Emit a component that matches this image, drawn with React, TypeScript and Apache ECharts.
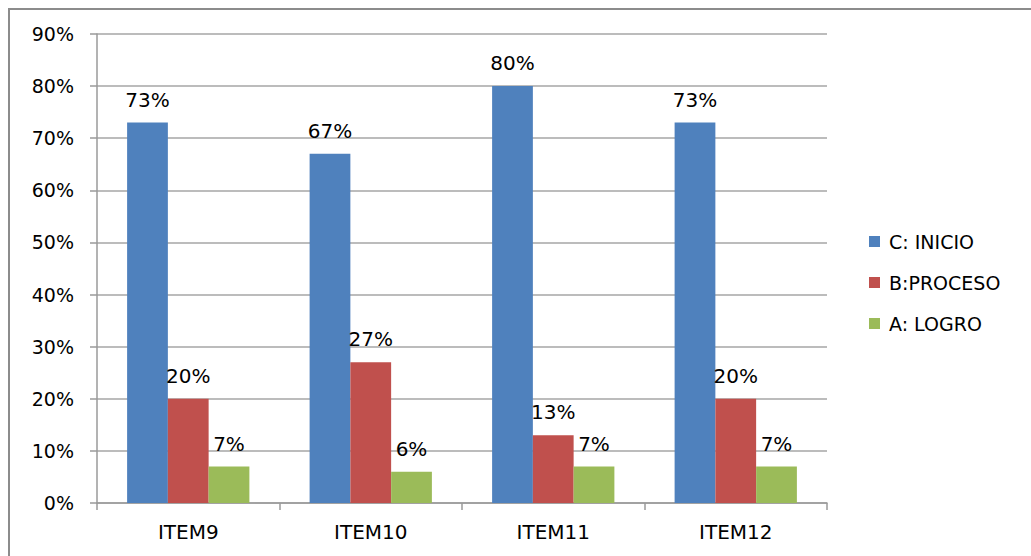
import React, { useEffect, useRef } from "react";
import * as echarts from "echarts";

const categories = ["ITEM9", "ITEM10", "ITEM11", "ITEM12"];
const inicio = [73, 67, 80, 73];
const proceso = [20, 27, 13, 20];
const logro = [7, 6, 7, 7];
const seriesNames = ["C: INICIO", "B:PROCESO", "A: LOGRO"];
const colors = ["#4F81BD", "#C0504D", "#9BBB59"];

const FONT = "DejaVu Sans";

export default function App() {
  const ref = useRef<HTMLDivElement>(null);
  useEffect(() => {
    if (!ref.current) return;
    const chart = echarts.init(ref.current, null, { renderer: "svg" });
    const label = {
      show: true,
      position: "top",
      distance: 13,
      color: "#000",
      fontFamily: FONT,
      fontSize: 20,
      formatter: "{c}%",
    };
    const mk = (name: string, data: number[], color: string) => ({
      name,
      type: "bar",
      data,
      itemStyle: { color },
      barGap: "0%",
      barCategoryGap: "33%",
      label,
    });
    chart.setOption({
      animation: false,
      backgroundColor: "#fff",
      graphic: [
        {
          type: "rect",
          shape: { x: 9, y: 9, width: 1200, height: 700 },
          style: { fill: "none", stroke: "#8c8c8c", lineWidth: 2 },
          silent: true,
        },
      ],
      grid: { left: 97, right: 204, top: 34, bottom: 53 },
      legend: {
        orient: "vertical",
        left: 869,
        top: 232,
        padding: 0,
        itemWidth: 11,
        itemHeight: 11,
        itemGap: 22,
        icon: "rect",
        textStyle: { fontFamily: FONT, fontSize: 19, color: "#000", padding: [0, 0, 0, 4] },
        data: seriesNames,
      },
      xAxis: {
        type: "category",
        data: categories,
        axisLine: { lineStyle: { color: "#9a9a9a", width: 1.5 } },
        axisTick: { show: true, length: 7, lineStyle: { color: "#9a9a9a", width: 1.5 } },
        axisLabel: { fontFamily: FONT, fontSize: 20, color: "#000", margin: 19 },
      },
      yAxis: {
        type: "value",
        min: 0,
        max: 90,
        interval: 10,
        axisLine: { show: true, lineStyle: { color: "#9a9a9a", width: 1.5 } },
        axisTick: { show: true, length: 7, lineStyle: { color: "#9a9a9a", width: 1.5 } },
        splitLine: { lineStyle: { color: "#a6a6a6", width: 1.5 } },
        axisLabel: { fontFamily: FONT, fontSize: 19, color: "#000", formatter: "{value}%", margin: 23 },
      },
      series: [
        mk(seriesNames[0], inicio, colors[0]),
        mk(seriesNames[1], proceso, colors[1]),
        mk(seriesNames[2], logro, colors[2]),
      ],
    });
    return () => chart.dispose();
  }, []);
  return (
    <div
      ref={ref}
      style={{ position: "fixed", left: 0, top: 0, width: 1031, height: 556 }}
    />
  );
}
